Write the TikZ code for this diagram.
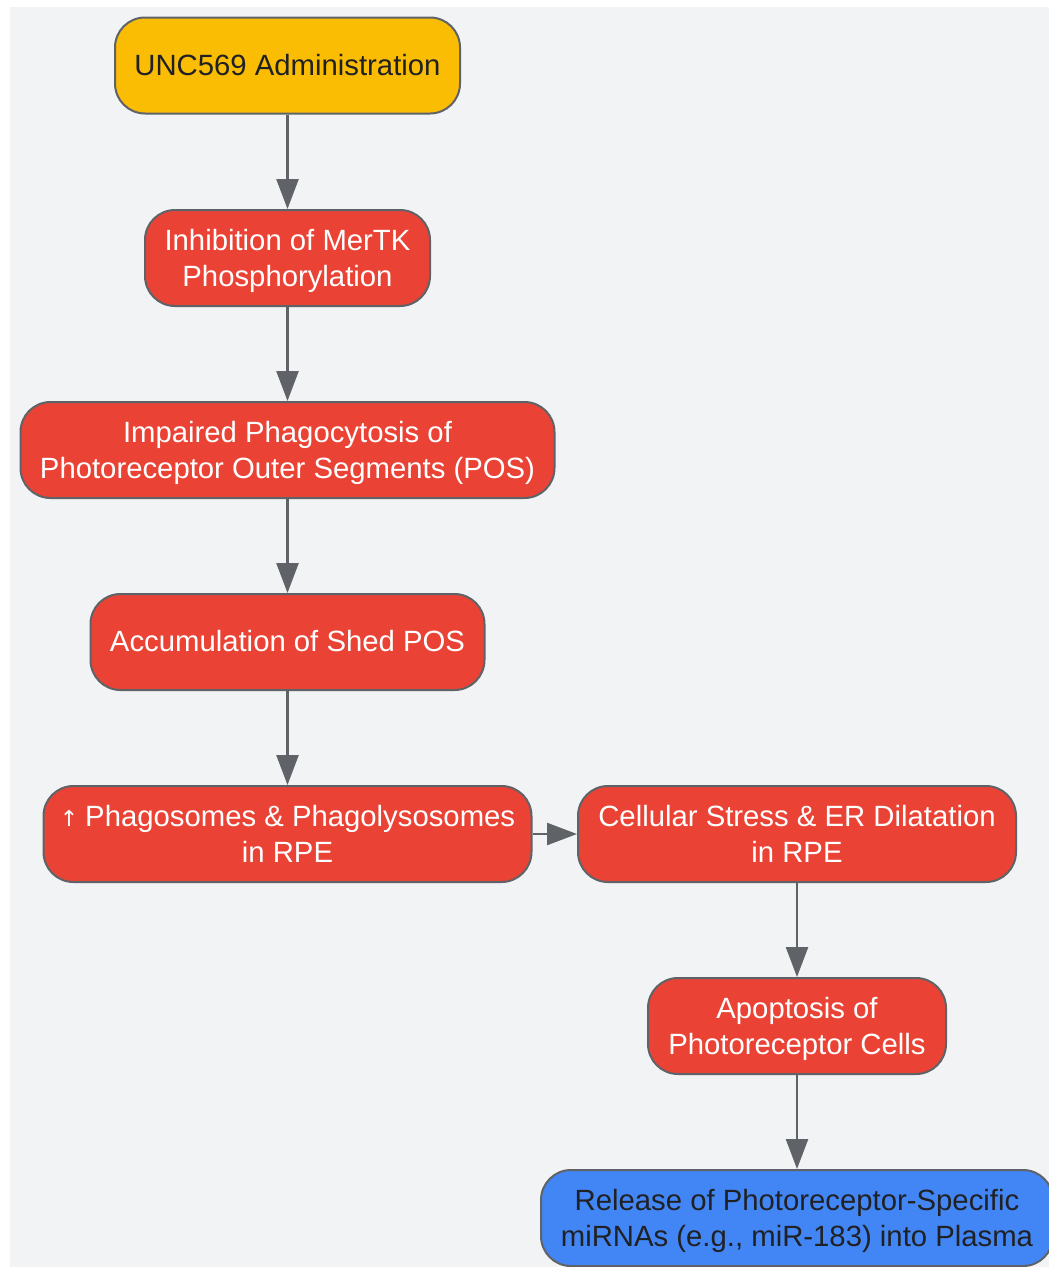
\documentclass[tikz,border=0pt]{standalone}
\usepackage{fontspec}
\setmainfont{Liberation Sans}
\usetikzlibrary{arrows.meta}
\definecolor{bgc}{HTML}{F1F3F4}
\definecolor{redc}{HTML}{EA4335}
\definecolor{bluec}{HTML}{4285F4}
\definecolor{yelc}{HTML}{FBBC04}
\definecolor{edgec}{HTML}{5F6368}
\definecolor{darktext}{HTML}{202124}
\newcommand\twolines[2]{\begin{tabular}[t]{@{}c@{}}#1\\#2\end{tabular}}
\begin{document}
\begin{tikzpicture}[x=1pt,y=-1pt,
  box/.style={draw=edgec, line width=2pt, rounded corners=30pt,
    inner sep=0pt, font=\fontsize{29.3}{36}\selectfont, minimum height=96pt},
  oneline/.style={text height=25pt, text depth=6pt},
  twoline/.style={text height=24pt, text depth=40pt},
  redbox/.style={box, fill=redc, text=white},
  yelbox/.style={box, fill=yelc, text=darktext},
  bluebox/.style={box, fill=bluec, text=darktext},
  conn/.style={draw=edgec, line width=2.5pt, -{Triangle[length=30pt,width=22pt]}}]
\useasboundingbox (0,0) rectangle (1049,1267);
\fill[bgc] (10,7) rectangle (1049,1267);
\node[yelbox, oneline, minimum width=345pt] (n1) at (287.5,65.5) {UNC569 Administration};
\node[redbox, twoline, minimum width=285pt] (n2) at (287.5,258) {\twolines{Inhibition of MerTK}{Phosphorylation}};
\node[redbox, twoline, minimum width=534pt] (n3) at (287.5,450) {\twolines{Impaired Phagocytosis of}{Photoreceptor Outer Segments (POS)}};
\node[redbox, oneline, minimum width=394pt] (n4) at (287.5,642) {Accumulation of Shed POS};
\node[redbox, twoline, minimum width=488pt] (n5) at (287.5,834) {\twolines{\fontspec{DejaVu Sans}\fontsize{22}{36}\selectfont↑\ \fontspec{Liberation Sans}\fontsize{29.3}{36}\selectfont Phagosomes \& Phagolysosomes}{in RPE}};
\node[redbox, twoline, minimum width=438pt] (n6) at (797,834) {\twolines{Cellular Stress \& ER Dilatation}{in RPE}};
\node[redbox, twoline, minimum width=298pt] (n7) at (797,1026) {\twolines{Apoptosis of}{Photoreceptor Cells}};
\node[bluebox, twoline, minimum width=512pt] (n8) at (797,1218) {\twolines{Release of Photoreceptor-Specific}{miRNAs (e.g., miR-183) into Plasma}};
\draw[conn] (n1) -- (n2);
\draw[conn] (n2) -- (n3);
\draw[conn] (n3) -- (n4);
\draw[conn] (n4) -- (n5);
\draw[conn] (n5) -- (n6);
\draw[conn] (n6) -- (n7);
\draw[conn] (n7) -- (n8);
\end{tikzpicture}
\end{document}
